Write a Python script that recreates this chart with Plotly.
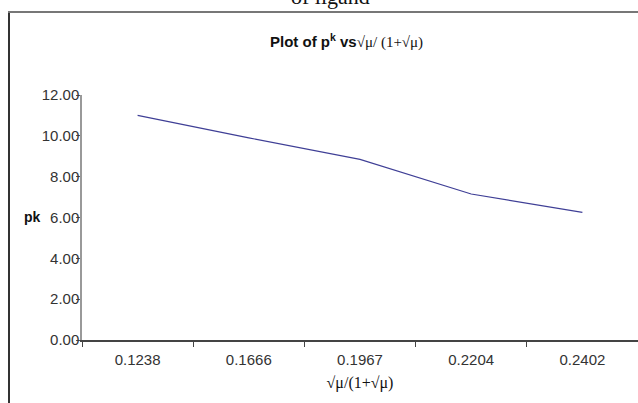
import plotly.graph_objects as go

categories = ["0.1238", "0.1666", "0.1967", "0.2204", "0.2402"]
pk_values = [11.0, 9.9, 8.85, 7.15, 6.25]
y_ticks = [0, 2, 4, 6, 8, 10, 12]
y_tick_labels = ["0.00", "2.00", "4.00", "6.00", "8.00", "10.00", "12.00"]

W, H = 638, 403
L, R, T, B = 82, 0, 95, 63
pw, ph = W - L - R, H - T - B

def px(x):
    return (x - L) / pw

def py(y):
    return (H - B - y) / ph

fig = go.Figure()
fig.add_trace(go.Scatter(
    x=categories, y=pk_values, mode="lines",
    line=dict(color="#3f3f96", width=1.2), showlegend=False, hoverinfo="skip"))

fig.update_layout(
    width=W, height=H,
    margin=dict(l=L, r=R, t=T, b=B),
    paper_bgcolor="white", plot_bgcolor="white",
    showlegend=False,
    xaxis=dict(type="category", range=[-0.5, 4.5], tickson="boundaries",
               ticks="outside", ticklen=5, tickcolor="#444", showgrid=False,
               showline=True, linecolor="#444", linewidth=1.5, zeroline=False,
               ticklabelstandoff=5,
               tickfont=dict(family="Arial, Liberation Sans", size=15, color="#333"),
               title=dict(text="√μ/(1+√μ)", standoff=10,
                          font=dict(family="Times New Roman, Liberation Serif", size=16, color="#111"))),
    yaxis=dict(range=[0, 12], tickvals=y_ticks, ticktext=y_tick_labels,
               ticks="outside", ticklen=4, tickcolor="#555", showgrid=False,
               showline=True, linecolor="#999", linewidth=1.5, zeroline=False,
               ticklabelstandoff=-6,
               tickfont=dict(family="Arial, Liberation Sans", size=15, color="#333"),
               title=dict(text="")),
)

# y-axis title
fig.add_annotation(xref="paper", yref="paper", x=px(32), y=py(217), text="<b>pk</b>",
                   showarrow=False, xanchor="center", yanchor="middle",
                   font=dict(family="Arial, Liberation Sans", size=14, color="#111"))

# chart title
fig.add_annotation(xref="paper", yref="paper", x=px(346), y=py(41),
                   text="<b>Plot of p<sup>k</sup> vs</b><span style='font-family:Liberation Serif'>√μ/ (1+√μ)</span>",
                   showarrow=False, xanchor="center", yanchor="middle",
                   font=dict(family="Arial, Liberation Sans", size=15, color="#111"))

# partially visible caption from the page above
fig.add_annotation(xref="paper", yref="paper", x=px(330), y=py(-4),
                   text="of ligand", showarrow=False, xanchor="center", yanchor="middle",
                   font=dict(family="Liberation Serif", size=22, color="#111"))

# frame of the chart object
fig.add_shape(type="line", xref="paper", yref="paper", x0=px(9), x1=px(9), y0=py(12), y1=py(410),
              line=dict(color="#333", width=2))
fig.add_shape(type="line", xref="paper", yref="paper", x0=px(8), x1=px(645), y0=py(12), y1=py(12),
              line=dict(color="#777", width=2))

fig.write_html("out.html")
